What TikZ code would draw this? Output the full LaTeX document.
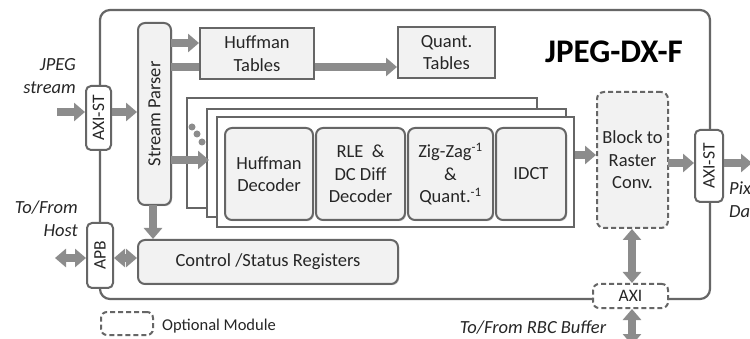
\documentclass[tikz,border=0pt]{standalone}
\usepackage{fontspec}
\setmainfont{Carlito}
\usetikzlibrary{arrows.meta,shadows}
\definecolor{edge}{HTML}{666666}
\definecolor{arr}{HTML}{8C8C8C}
\definecolor{boxfill}{HTML}{F2F2F2}
\definecolor{txt}{HTML}{262626}
\begin{document}
\begin{tikzpicture}[x=1pt,y=-1pt,
  every node/.style={text=txt,font=\fontsize{18.5}{22.5}\selectfont,inner sep=0pt,align=center},
  outerbox/.style={draw=edge,line width=2.2pt,rounded corners=10pt},
  port/.style={draw=edge,line width=2pt,fill=white,rounded corners=5pt},
  blk/.style={draw=edge,line width=2pt,fill=boxfill,rounded corners=7pt,
    drop shadow={opacity=0.35,shadow xshift=1.2pt,shadow yshift=-1.2pt}},
  tbl/.style={draw=edge,line width=2pt,fill=boxfill,
    drop shadow={opacity=0.35,shadow xshift=1.2pt,shadow yshift=-1.2pt}},
  frame/.style={draw=edge,line width=2pt,fill=white},
  opt/.style={draw=edge,line width=2pt,dashed,dash pattern=on 5pt off 3pt,fill=boxfill,rounded corners=7pt},
  fat/.style={draw=arr,line width=8pt,-{Triangle[width=18pt,length=11pt]}},
  fatbar/.style={draw=arr,line width=8pt},
  fatboth/.style={draw=arr,line width=8pt,{Triangle[width=18pt,length=11pt]}-{Triangle[width=18pt,length=11pt]}},
  lab/.style={font=\itshape\fontsize{18.5}{23}\selectfont},
  porttxt/.style={rotate=90,font=\fontsize{17.5}{20}\selectfont}
]
\clip (0,0) rectangle (750,339);
\fill[white] (0,0) rectangle (750,339);

% outer frame
\draw[outerbox] (100,10) rectangle (710,299);

% title
\node[font=\bfseries\fontsize{33}{35}\selectfont,text=black] (title) at (614,52) {JPEG-DX-F};

% tables
\node[tbl,minimum width=114pt,minimum height=51pt] (ht) at (257,53.5) {Huffman\\Tables};
\node[tbl,minimum width=97pt,minimum height=51pt] (qt) at (446.5,52.5) {Quant.\\Tables};

% stacked frames
\node[frame,minimum width=350pt,minimum height=110pt] (f1) at (362,153) {};
\node[frame,minimum width=359pt,minimum height=108pt] (f2) at (386.5,163) {};
\node[frame,minimum width=357pt,minimum height=110pt] (f3) at (395.5,172) {};

% decoder blocks
\node[blk,minimum width=88pt,minimum height=92pt] (hd) at (269,174) {Huffman\\Decoder};
\node[blk,minimum width=89pt,minimum height=92pt] (rle) at (360.5,174) {RLE~~\&\\DC Diff\\Decoder};
\node[blk,minimum width=85pt,minimum height=92pt] (zz) at (450.5,174) {Zig-Zag\textsuperscript{-1}\\\&\\Quant.\textsuperscript{-1}};
\node[blk,minimum width=70pt,minimum height=92pt] (idct) at (531,174) {IDCT};

% dots
\fill[arr] (192,127) circle (3.5pt) (197,134) circle (3.5pt) (202,142) circle (3.5pt);

% stream parser
\node[blk,minimum width=33pt,minimum height=182pt] (sp) at (154.5,114) {};
\node[rotate=90] (sptxt) at (sp.center) {Stream Parser};

% control / status
\node[blk,minimum width=260pt,minimum height=44pt] (csr) at (268,262) {Control /Status Registers};

% block to raster
\node[opt,minimum width=71pt,minimum height=136pt] (b2r) at (632.5,160) {Block to\\Raster\\Conv.};

% ports
\node[port,minimum width=25pt,minimum height=64pt] (axil) at (98.5,118) {};
\node[porttxt] (axiltxt) at (axil.center) {AXI-ST};
\node[port,minimum width=26pt,minimum height=65pt] (apb) at (100,255.5) {};
\node[porttxt] (apbtxt) at (apb.center) {APB};
\node[port,minimum width=28pt,minimum height=72pt] (axir) at (709,166) {};
\node[porttxt] (axirtxt) at (axir.center) {AXI-ST};
\node[opt,fill=white,rounded corners=6pt,minimum width=75pt,minimum height=24pt,font=\fontsize{17.5}{20}\selectfont] (axib) at (630.5,296) {AXI};

% coordinates for free ends
\coordinate (jin) at (57,112);
\coordinate (hostend) at (55,258);
\coordinate (pixend) at (752,163);
\coordinate (rbcend) at (632,345);
\coordinate (a1) at (171,43);
\coordinate (a2) at (171,67);
\coordinate (a3) at (171,160);
\coordinate (a3e) at (209,160);
\coordinate (a4) at (575,155);
\coordinate (a5) at (668,163);
\coordinate (a6) at (153,205);

% arrows
\draw[fat] (jin) -- (axil.west |- jin);
\draw[fat] (axil.east |- jin) -- (sp.west |- jin);
\draw[fat] (a1) -- (ht.west |- a1);
\draw[fatbar] (a2) -- (ht.west |- a2);
\draw[fat] (ht.east |- a2) -- (qt.west |- a2);
\draw[fat] (a3) -- (a3e);
\draw[fat] (a4) -- (b2r.west |- a4);
\draw[fat] (a5) -- (axir.west |- a5);
\draw[fat] (axir.east |- a5) -- (pixend);
\draw[fat] (a6) -- (csr.north -| a6);
\draw[fatboth] (hostend) -- (apb.west |- hostend);
\draw[fatboth] (apb.east |- hostend) -- (csr.west |- hostend);
\draw[fatboth] (b2r.south -| rbcend) -- (axib.north -| rbcend);
\draw[fatboth] (axib.south -| rbcend) -- (rbcend);

% labels
\node[lab,anchor=east,align=right] (jpeg) at (76,76) {JPEG\\stream};
\node[lab,anchor=east,align=right] (host) at (78,219) {To/From\\Host};
\node[lab,anchor=west,align=left] (pix) at (729,200) {Pixel\\Data};
\node[lab] (rbc) at (533,328) {To/From RBC Buffer};

% legend
\node[opt,fill=white,rounded corners=6pt,minimum width=52pt,minimum height=23pt] (leg) at (127,323.5) {};
\node[anchor=west,font=\fontsize{16.5}{18}\selectfont] (legtxt) at (162,326) {Optional Module};
\end{tikzpicture}
\end{document}
